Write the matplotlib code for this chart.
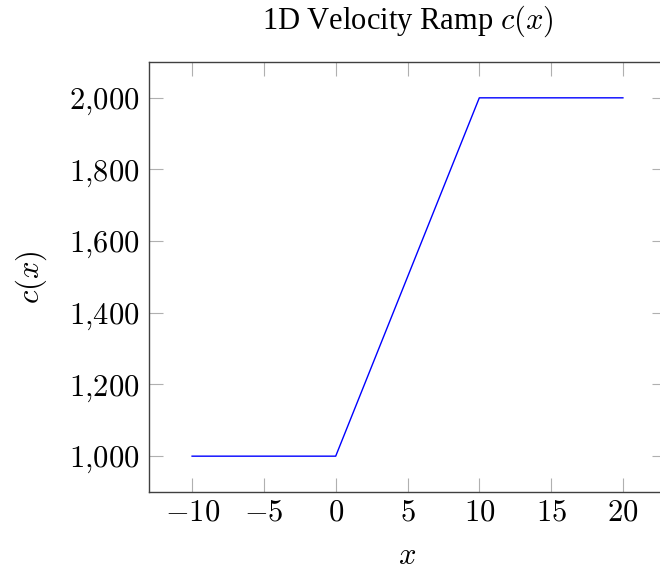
import numpy as np
import matplotlib.pyplot as plt

# velocity ramp
x_vals = [-10, 0, 10, 20]
c_vals = [1000, 1000, 2000, 2000]
xtick_vals = [-10, -5, 0, 5, 10, 15, 20]
ytick_vals = [1000, 1200, 1400, 1600, 1800, 2000]
ytick_labels = ['$1{,}000$', '$1{,}200$', '$1{,}400$', '$1{,}600$', '$1{,}800$', '$2{,}000$']

plt.rcParams['mathtext.fontset'] = 'cm'
plt.rcParams['font.family'] = 'Liberation Serif'

fig = plt.figure(figsize=(6.6, 5.71), dpi=100)
ax = fig.add_axes([149/660, 1-492/571, 517/660, 430/571])

ax.plot(x_vals, c_vals, color='#0000ff', linewidth=1.0)

ax.set_xlim(-13, 23)
ax.set_ylim(900, 2100)
ax.set_xticks(xtick_vals)
ax.set_xticklabels(['$%d$' % v if v >= 0 else '$-%d$' % -v for v in xtick_vals])
ax.set_yticks(ytick_vals)
ax.set_yticklabels(ytick_labels)
ax.tick_params(direction='in', length=10, width=0.8, color='#b0b0b0',
               labelsize=22, top=True, right=True, pad=7)
ax.tick_params(axis='x', pad=5)
for s in ax.spines.values():
    s.set_color('#404040')
    s.set_linewidth(1.0)
ax.spines['right'].set_visible(False)

ax.set_xlabel('$x$', fontsize=22, labelpad=10)
ax.set_ylabel('$c(x)$', fontsize=22, labelpad=14)
ax.set_title('1D Velocity Ramp $c(x)$', fontsize=22, pad=24)

fig.savefig('out.png', dpi=100)
